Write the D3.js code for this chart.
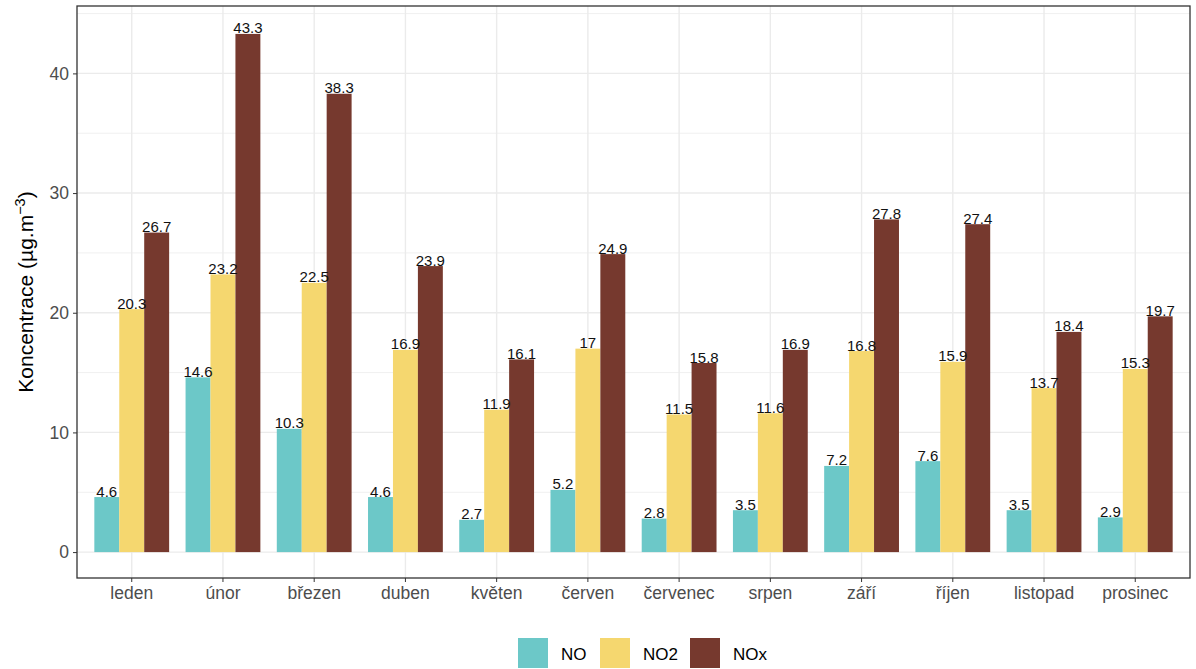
<!DOCTYPE html>
<html>
<head>
<meta charset="utf-8">
<script src="https://cdn.jsdelivr.net/npm/d3@7"></script>
<style>
body { margin: 0; background: #fff; }
text { font-family: "Liberation Sans", Arial, sans-serif; }
</style>
</head>
<body>
<div id="chart"></div>
<script>
var months = ["leden", "únor", "březen", "duben", "květen", "červen", "červenec", "srpen", "září", "říjen", "listopad", "prosinec"];
var seriesNames = ["NO", "NO2", "NOx"];
var colors = ["#6cc8c8", "#f5d76f", "#76392e"];
var valNO = [4.6, 14.6, 10.3, 4.6, 2.7, 5.2, 2.8, 3.5, 7.2, 7.6, 3.5, 2.9];
var valNO2 = [20.3, 23.2, 22.5, 16.9, 11.9, 17, 11.5, 11.6, 16.8, 15.9, 13.7, 15.3];
var valNOx = [26.7, 43.3, 38.3, 23.9, 16.1, 24.9, 15.8, 16.9, 27.8, 27.4, 18.4, 19.7];
var yTicks = [0, 10, 20, 30, 40];
var yMinor = [5, 15, 25, 35, 45];

var width = 1196, height = 669;
var pLeft = 77, pRight = 1190, pTop = 6, pBottom = 578;

var svg = d3.select("#chart").append("svg")
    .attr("width", width)
    .attr("height", height);

var rows = months.map(function (m, i) {
    return { month: m, values: [valNO[i], valNO2[i], valNOx[i]] };
});

var x = d3.scaleBand()
    .domain(months)
    .range([pLeft, pRight])
    .paddingInner(0)
    .paddingOuter(0.1);

var x1 = d3.scaleBand()
    .domain(seriesNames)
    .range([0, x.bandwidth() * 0.82]);

var maxV = d3.max(valNOx);
var y = d3.scaleLinear()
    .domain([-maxV * 0.05, maxV * 1.05])
    .range([pBottom, 8]);

// grid
var grid = svg.append("g");
grid.selectAll(".minor")
    .data(yMinor)
    .enter().append("line")
    .attr("x1", pLeft).attr("x2", pRight)
    .attr("y1", function (d) { return y(d); })
    .attr("y2", function (d) { return y(d); })
    .attr("stroke", "#f0f0f0").attr("stroke-width", 1);
grid.selectAll(".major")
    .data(yTicks)
    .enter().append("line")
    .attr("x1", pLeft).attr("x2", pRight)
    .attr("y1", function (d) { return y(d); })
    .attr("y2", function (d) { return y(d); })
    .attr("stroke", "#ebebeb").attr("stroke-width", 1.4);
grid.selectAll(".vmajor")
    .data(months)
    .enter().append("line")
    .attr("y1", pTop).attr("y2", pBottom)
    .attr("x1", function (d) { return x(d) + x.bandwidth() / 2; })
    .attr("x2", function (d) { return x(d) + x.bandwidth() / 2; })
    .attr("stroke", "#ebebeb").attr("stroke-width", 1.4);

// bars
var groups = svg.append("g").selectAll("g")
    .data(rows)
    .enter().append("g")
    .attr("transform", function (d) {
        return "translate(" + (x(d.month) + x.bandwidth() * 0.09) + ",0)";
    });

groups.selectAll("rect")
    .data(function (d) { return d.values.map(function (v, j) { return { key: seriesNames[j], v: v, j: j }; }); })
    .enter().append("rect")
    .attr("x", function (d) { return x1(d.key); })
    .attr("width", x1.bandwidth())
    .attr("y", function (d) { return y(d.v); })
    .attr("height", function (d) { return y(0) - y(d.v); })
    .attr("fill", function (d) { return colors[d.j]; });

groups.selectAll("text")
    .data(function (d) { return d.values.map(function (v, j) { return { key: seriesNames[j], v: v, j: j }; }); })
    .enter().append("text")
    .attr("x", function (d) { return x1(d.key) + x1.bandwidth() / 2; })
    .attr("y", function (d) { return y(d.v) - 0.5; })
    .attr("text-anchor", "middle")
    .attr("font-size", 15)
    .attr("fill", "#111")
    .text(function (d) { return d.v; });

// panel border
svg.append("rect")
    .attr("x", pLeft).attr("y", pTop)
    .attr("width", pRight - pLeft).attr("height", pBottom - pTop)
    .attr("fill", "none")
    .attr("stroke", "#333").attr("stroke-width", 1.3);

// axes
var yAxis = svg.append("g")
    .attr("transform", "translate(" + pLeft + ",0)")
    .call(d3.axisLeft(y).tickValues(yTicks).tickSize(4).tickPadding(4));
yAxis.select(".domain").remove();
yAxis.selectAll("line").attr("stroke", "#333");
yAxis.selectAll("text").attr("font-size", 17.5).attr("fill", "#4d4d4d")
    .style("font-family", "Liberation Sans, Arial, sans-serif");

var xAxis = svg.append("g")
    .attr("transform", "translate(0," + pBottom + ")")
    .call(d3.axisBottom(x).tickSize(4).tickPadding(5));
xAxis.select(".domain").remove();
xAxis.selectAll("line").attr("stroke", "#333");
xAxis.selectAll("text").attr("font-size", 17.5).attr("fill", "#4d4d4d")
    .style("font-family", "Liberation Sans, Arial, sans-serif");

// y title
var title = svg.append("text")
    .attr("transform", "translate(33," + ((pTop + pBottom) / 2) + ") rotate(-90)")
    .attr("text-anchor", "middle")
    .attr("font-size", 21)
    .attr("fill", "#000");
title.append("tspan").text("Koncentrace (µg.m");
title.append("tspan").attr("dy", -8).attr("font-size", 14.5).text("−3");
title.append("tspan").attr("dy", 8).text(")");

// legend
var legendX = [518, 600, 690];
var legend = svg.append("g").selectAll("g")
    .data(seriesNames)
    .enter().append("g")
    .attr("transform", function (d, i) { return "translate(" + legendX[i] + ",638)"; });
legend.append("rect")
    .attr("width", 30).attr("height", 30)
    .attr("fill", function (d, i) { return colors[i]; });
legend.append("text")
    .attr("x", 43).attr("y", 22)
    .attr("font-size", 17)
    .attr("fill", "#000")
    .text(function (d) { return d; });
</script>
</body>
</html>
